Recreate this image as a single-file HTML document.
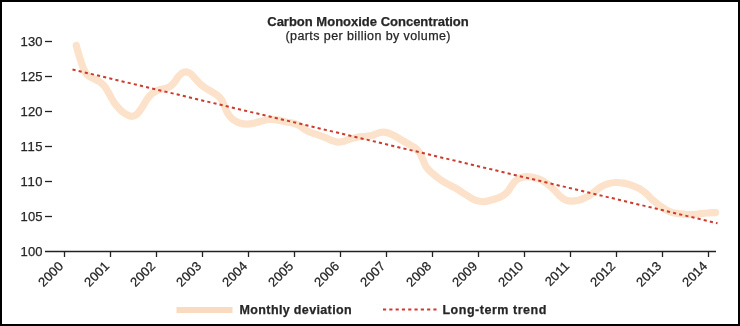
<!DOCTYPE html>
<html><head><meta charset="utf-8"><style>
html,body{margin:0;padding:0;background:#000;}
body{width:740px;height:326px;overflow:hidden;}
svg{display:block;}
text{font-family:"Liberation Sans",sans-serif;fill:#262626;stroke:#262626;stroke-width:0.25px;}
svg{filter:blur(0.4px);}
.yl{font-size:13px;text-anchor:end;}
.xl{font-size:13px;text-anchor:end;}
.t{font-size:13px;font-weight:bold;text-anchor:middle;}
.st{font-size:12.5px;text-anchor:middle;}
.lg{font-size:12.5px;font-weight:bold;}
</style></head><body>
<svg width="740" height="326" viewBox="0 0 740 326">
<rect x="0" y="0" width="740" height="326" fill="#000"/>
<rect x="2" y="2" width="736" height="322" fill="#fff"/>
<text class="t" x="368" y="25.5">Carbon Monoxide Concentration</text>
<text class="st" x="368" y="39.5" textLength="165" lengthAdjust="spacing">(parts per billion by volume)</text>
<text x="42.5" y="255.5" class="yl" textLength="22" lengthAdjust="spacing">100</text><text x="42.5" y="220.5" class="yl" textLength="22" lengthAdjust="spacing">105</text><line x1="45" x2="52" y1="216.5" y2="216.5" stroke="#222" stroke-width="1.3"/><text x="42.5" y="185.5" class="yl" textLength="22" lengthAdjust="spacing">110</text><line x1="45" x2="52" y1="181.5" y2="181.5" stroke="#222" stroke-width="1.3"/><text x="42.5" y="150.5" class="yl" textLength="22" lengthAdjust="spacing">115</text><line x1="45" x2="52" y1="146.5" y2="146.5" stroke="#222" stroke-width="1.3"/><text x="42.5" y="115.5" class="yl" textLength="22" lengthAdjust="spacing">120</text><line x1="45" x2="52" y1="111.5" y2="111.5" stroke="#222" stroke-width="1.3"/><text x="42.5" y="80.5" class="yl" textLength="22" lengthAdjust="spacing">125</text><line x1="45" x2="52" y1="76.5" y2="76.5" stroke="#222" stroke-width="1.3"/><text x="42.5" y="45.5" class="yl" textLength="22" lengthAdjust="spacing">130</text><line x1="45" x2="52" y1="41.5" y2="41.5" stroke="#222" stroke-width="1.3"/>
<line x1="45" x2="716" y1="251.5" y2="251.5" stroke="#222" stroke-width="1.3"/>
<line x1="64.5" x2="64.5" y1="251.5" y2="257.0" stroke="#222" stroke-width="1.3"/><text class="xl" transform="translate(64.0,267.0) rotate(-45)" x="0" y="0">2000</text><line x1="110.5" x2="110.5" y1="251.5" y2="257.0" stroke="#222" stroke-width="1.3"/><text class="xl" transform="translate(110.0,267.0) rotate(-45)" x="0" y="0">2001</text><line x1="156.5" x2="156.5" y1="251.5" y2="257.0" stroke="#222" stroke-width="1.3"/><text class="xl" transform="translate(156.0,267.0) rotate(-45)" x="0" y="0">2002</text><line x1="202.5" x2="202.5" y1="251.5" y2="257.0" stroke="#222" stroke-width="1.3"/><text class="xl" transform="translate(202.0,267.0) rotate(-45)" x="0" y="0">2003</text><line x1="248.5" x2="248.5" y1="251.5" y2="257.0" stroke="#222" stroke-width="1.3"/><text class="xl" transform="translate(248.0,267.0) rotate(-45)" x="0" y="0">2004</text><line x1="294.5" x2="294.5" y1="251.5" y2="257.0" stroke="#222" stroke-width="1.3"/><text class="xl" transform="translate(294.0,267.0) rotate(-45)" x="0" y="0">2005</text><line x1="340.5" x2="340.5" y1="251.5" y2="257.0" stroke="#222" stroke-width="1.3"/><text class="xl" transform="translate(340.0,267.0) rotate(-45)" x="0" y="0">2006</text><line x1="386.5" x2="386.5" y1="251.5" y2="257.0" stroke="#222" stroke-width="1.3"/><text class="xl" transform="translate(386.0,267.0) rotate(-45)" x="0" y="0">2007</text><line x1="432.5" x2="432.5" y1="251.5" y2="257.0" stroke="#222" stroke-width="1.3"/><text class="xl" transform="translate(432.0,267.0) rotate(-45)" x="0" y="0">2008</text><line x1="478.5" x2="478.5" y1="251.5" y2="257.0" stroke="#222" stroke-width="1.3"/><text class="xl" transform="translate(478.0,267.0) rotate(-45)" x="0" y="0">2009</text><line x1="524.5" x2="524.5" y1="251.5" y2="257.0" stroke="#222" stroke-width="1.3"/><text class="xl" transform="translate(524.0,267.0) rotate(-45)" x="0" y="0">2010</text><line x1="570.5" x2="570.5" y1="251.5" y2="257.0" stroke="#222" stroke-width="1.3"/><text class="xl" transform="translate(570.0,267.0) rotate(-45)" x="0" y="0">2011</text><line x1="616.5" x2="616.5" y1="251.5" y2="257.0" stroke="#222" stroke-width="1.3"/><text class="xl" transform="translate(616.0,267.0) rotate(-45)" x="0" y="0">2012</text><line x1="662.5" x2="662.5" y1="251.5" y2="257.0" stroke="#222" stroke-width="1.3"/><text class="xl" transform="translate(662.0,267.0) rotate(-45)" x="0" y="0">2013</text><line x1="708.5" x2="708.5" y1="251.5" y2="257.0" stroke="#222" stroke-width="1.3"/><text class="xl" transform="translate(708.0,267.0) rotate(-45)" x="0" y="0">2014</text>
<path d="M76.3,45.5 C76.5,46.4 77.1,48.8 77.8,51.1 C78.4,53.4 79.4,56.6 80.3,59.4 C81.2,62.2 82.2,65.5 83.2,67.9 C84.2,70.3 85.1,72.3 86.2,73.8 C87.3,75.2 88.5,75.8 89.8,76.7 C91.2,77.6 92.8,78.2 94.4,79.0 C96.0,79.8 97.9,80.5 99.5,81.7 C101.1,82.8 102.6,84.1 104.0,85.7 C105.4,87.3 106.6,89.2 107.8,91.4 C109.1,93.5 110.3,96.1 111.7,98.5 C113.1,100.9 114.6,103.5 116.3,105.6 C118.0,107.7 119.9,109.6 121.8,111.2 C123.7,112.8 125.6,114.1 127.4,115.0 C129.2,115.9 130.7,116.5 132.3,116.3 C134.0,116.1 135.6,115.4 137.3,113.8 C139.0,112.3 140.7,109.4 142.3,107.0 C143.9,104.6 145.4,101.6 147.0,99.4 C148.6,97.2 150.1,95.1 151.8,93.7 C153.5,92.2 155.3,91.3 157.0,90.6 C158.7,89.8 160.4,89.5 162.1,89.1 C163.7,88.7 165.3,88.6 166.9,88.0 C168.4,87.5 169.9,86.9 171.2,85.7 C172.6,84.6 173.8,82.9 175.0,81.4 C176.2,79.8 177.3,77.8 178.5,76.4 C179.7,75.0 180.9,73.7 182.1,72.9 C183.4,72.2 184.7,71.7 186.1,71.8 C187.5,71.9 189.0,72.5 190.5,73.6 C192.0,74.7 193.5,76.8 195.1,78.5 C196.7,80.2 198.3,82.3 200.1,83.9 C201.8,85.5 203.6,86.7 205.5,88.0 C207.4,89.2 209.7,90.4 211.6,91.6 C213.6,92.8 215.7,94.0 217.3,95.3 C218.9,96.6 220.2,97.6 221.4,99.4 C222.5,101.2 223.3,103.7 224.4,106.1 C225.5,108.5 226.5,111.4 228.0,113.7 C229.5,116.0 231.3,118.2 233.4,119.8 C235.4,121.4 237.9,122.5 240.2,123.2 C242.5,124.0 244.8,124.2 247.1,124.2 C249.5,124.2 251.7,123.7 254.1,123.2 C256.5,122.6 259.1,121.7 261.6,121.1 C264.1,120.5 266.5,119.7 269.1,119.5 C271.8,119.3 274.6,119.5 277.3,119.9 C280.1,120.3 283.0,121.2 285.5,121.8 C288.0,122.3 290.2,122.4 292.4,123.1 C294.7,123.7 296.8,124.3 298.9,125.4 C301.0,126.5 302.9,128.4 304.9,129.6 C306.9,130.7 308.8,131.6 310.9,132.5 C313.1,133.4 315.6,134.0 317.9,134.8 C320.2,135.7 322.7,136.5 325.0,137.4 C327.3,138.4 329.5,139.5 331.6,140.3 C333.7,141.1 335.7,142.0 337.6,142.2 C339.5,142.4 341.0,142.0 343.1,141.5 C345.1,141.0 347.3,139.8 349.8,139.0 C352.4,138.3 355.7,137.5 358.4,137.0 C361.1,136.6 364.0,136.6 366.2,136.3 C368.5,136.0 370.2,135.9 372.1,135.4 C373.9,134.9 375.6,133.9 377.4,133.4 C379.1,132.8 380.8,132.3 382.6,132.2 C384.4,132.1 386.1,132.4 388.0,133.0 C390.0,133.6 392.1,134.5 394.4,135.7 C396.8,136.9 399.6,138.9 402.1,140.4 C404.7,141.9 407.7,143.5 409.9,144.8 C412.2,146.1 414.1,146.9 415.6,148.2 C417.2,149.5 418.2,150.8 419.4,152.6 C420.6,154.4 421.6,156.9 422.6,159.1 C423.7,161.3 424.5,163.9 425.6,165.8 C426.8,167.7 427.8,169.0 429.4,170.6 C430.9,172.2 433.0,173.8 435.0,175.5 C437.0,177.2 439.3,179.0 441.6,180.5 C443.9,182.0 446.2,183.2 448.8,184.6 C451.3,186.1 454.3,187.4 457.2,189.1 C460.1,190.9 463.4,193.2 466.4,195.0 C469.4,196.8 472.3,199.0 475.2,200.1 C478.1,201.2 480.7,201.7 483.6,201.7 C486.5,201.6 489.5,200.5 492.4,199.7 C495.3,198.8 498.4,198.0 500.9,196.7 C503.4,195.5 505.6,193.9 507.4,192.0 C509.2,190.1 510.4,187.3 511.8,185.4 C513.3,183.4 514.5,181.6 516.0,180.3 C517.6,178.9 519.4,178.1 521.4,177.5 C523.4,176.9 525.6,176.6 527.9,176.7 C530.1,176.7 532.6,177.2 534.8,177.7 C536.9,178.2 539.0,178.9 540.8,179.7 C542.6,180.6 544.1,181.5 545.8,182.7 C547.5,183.9 549.2,185.2 550.9,186.8 C552.6,188.3 554.5,190.3 556.2,192.0 C557.9,193.7 559.3,195.7 561.0,197.0 C562.6,198.4 564.2,199.5 566.0,200.2 C567.8,200.9 569.9,201.2 572.0,201.2 C574.0,201.2 576.3,200.8 578.4,200.3 C580.5,199.7 582.6,198.8 584.5,197.9 C586.4,197.1 588.1,196.3 589.8,195.2 C591.5,194.2 593.0,193.1 594.8,191.7 C596.7,190.3 598.6,188.2 600.8,186.9 C603.0,185.6 605.5,184.4 608.0,183.7 C610.5,183.0 613.1,182.6 615.7,182.5 C618.3,182.4 621.0,182.7 623.7,183.1 C626.4,183.6 629.3,184.4 632.0,185.3 C634.6,186.2 637.1,187.3 639.4,188.6 C641.6,189.9 643.5,191.3 645.6,193.1 C647.7,194.9 649.7,197.3 651.9,199.3 C654.1,201.2 656.5,203.2 658.7,204.9 C660.9,206.6 663.0,208.1 665.3,209.3 C667.5,210.6 669.6,211.7 672.1,212.5 C674.6,213.2 677.5,213.6 680.4,213.9 C683.2,214.2 686.3,214.5 689.2,214.6 C692.1,214.6 694.7,214.4 697.6,214.2 C700.5,213.9 703.4,213.2 706.4,213.0 C709.4,212.7 714.1,212.7 715.6,212.6" fill="none" stroke="#fce2ca" stroke-width="7.2" stroke-linejoin="round" stroke-linecap="round"/>
<line x1="72.5" y1="69.5" x2="717.5" y2="223.3" stroke="#cc3b2e" stroke-width="2" stroke-dasharray="3.15 3.15"/>
<rect x="176.5" y="307" width="56" height="6" fill="#f9dcc0"/>
<text class="lg" x="239.6" y="313.5" textLength="112" lengthAdjust="spacing">Monthly deviation</text>
<line x1="383" x2="437" y1="309.5" y2="309.5" stroke="#cc3b2e" stroke-width="2" stroke-dasharray="3.15 3.15"/>
<text class="lg" x="442.4" y="313.5" textLength="104" lengthAdjust="spacing">Long-term trend</text>
</svg>
</body></html>
